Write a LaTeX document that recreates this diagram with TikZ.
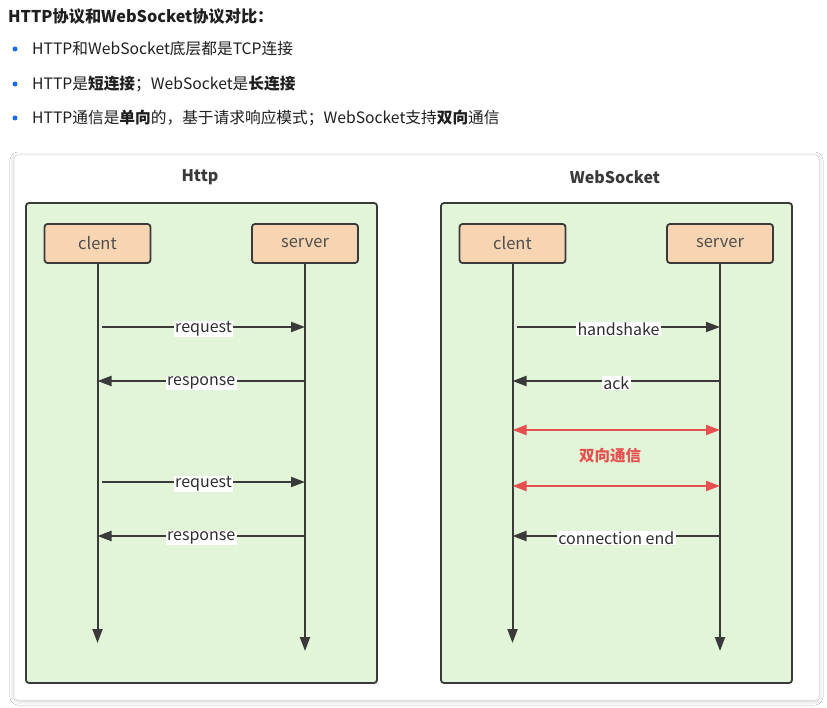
\documentclass[tikz,border=0pt]{standalone}
\usepackage{fontspec}
\setmainfont{Noto Sans CJK SC}
\usetikzlibrary{arrows.meta,shadows.blur}
\definecolor{txt}{HTML}{1F1F1F}
\definecolor{bulletblue}{HTML}{1A6BF0}
\definecolor{panelgreen}{HTML}{E3F5D8}
\definecolor{boxorange}{HTML}{F8D5B2}
\definecolor{edge}{HTML}{3A3A3A}
\definecolor{redline}{HTML}{E5504F}
\definecolor{cardline}{HTML}{E2E2E2}
\tikzset{
  bodytext/.style={anchor=west, text=txt, font=\fontsize{15.7}{18}\selectfont, inner sep=0pt},
  bulletdot/.style={circle, fill=bulletblue, inner sep=0pt, minimum size=5pt},
  card/.style={rectangle, rounded corners=4pt, fill=white, draw=cardline, line width=0.5pt,
    inner sep=0pt, outer sep=0pt, anchor=north west,
    blur shadow={shadow xshift=0pt, shadow yshift=-1pt, shadow blur radius=4pt, shadow opacity=22}},
  panel/.style={rectangle, rounded corners=3pt, fill=panelgreen, draw=edge, line width=1.8pt,
    inner sep=0pt, outer sep=0pt, anchor=north west},
  actor/.style={rectangle, rounded corners=3pt, fill=boxorange, draw=edge, line width=1.8pt,
    inner sep=0pt, outer sep=0pt, minimum width=106pt, minimum height=39pt,
    text=edge!90, font=\fontsize{16.5}{19}\selectfont},
  paneltitle/.style={text=edge, font=\fontsize{16}{19}\selectfont\bfseries},
  life/.style={draw=edge, line width=2pt, -{Triangle[length=14pt,width=10pt]}},
  msg/.style={draw=edge, line width=2pt, -{Triangle[length=14pt,width=10pt]}},
  lbl/.style={fill=white, inner xsep=1.5pt, inner ysep=1pt, text=edge!80!black,
    font=\fontsize{16}{18}\selectfont, yshift=-2pt},
  dual/.style={draw=redline, line width=2pt, {Triangle[length=14pt,width=10pt]}-{Triangle[length=14pt,width=10pt]}},
}
\begin{document}
\begin{tikzpicture}[x=1pt,y=-1pt]
\useasboundingbox (0,0) rectangle (827,708);
\fill[white] (0,0) rectangle (827,708);

% header text
\node[bodytext, font=\fontsize{16.2}{19}\selectfont\bfseries] (title) at (8,16) {HTTP协议和WebSocket协议对比：};
\node[bulletdot] (d1) at (15,49) {};
\node[bodytext] (t1) at (32,49) {HTTP和WebSocket底层都是TCP连接};
\node[bulletdot] (d2) at (15,84) {};
\node[bodytext] (t2) at (32,84) {HTTP是\textbf{短连接}；WebSocket是\textbf{长连接}};
\node[bulletdot] (d3) at (15,118) {};
\node[bodytext] (t3) at (32,118) {HTTP通信是\textbf{单向}的，基于请求响应模式；WebSocket支持\textbf{双向}通信};

% card
\node[card, minimum width=805pt, minimum height=545pt] (card) at (14,155) {};
\node[paneltitle] (httptitle) at (200,177) {Http};
\node[paneltitle] (wstitle) at (615,177) {WebSocket};

% panels
\node[panel, minimum width=351pt, minimum height=480pt] (hpanel) at (26,203) {};
\node[panel, minimum width=351pt, minimum height=480pt] (wpanel) at (441,203) {};

% actors
\node[actor] (hc) at (97.5,243.5) {clent};
\node[actor] (hs) at (305,243.5) {server};
\node[actor] (wc) at (512.5,243.5) {clent};
\node[actor] (ws) at (720,243.5) {server};

% lifeline ends
\coordinate (hcEnd) at (97.5,643);
\coordinate (hsEnd) at (305,651);
\coordinate (wcEnd) at (512.5,643);
\coordinate (wsEnd) at (720,651);
\draw[life] (hc.south) -- (hcEnd);
\draw[life] (hs.south) -- (hsEnd);
\draw[life] (wc.south) -- (wcEnd);
\draw[life] (ws.south) -- (wsEnd);

% http messages
\coordinate (hc1) at (102,327); \coordinate (hs1) at (305,327);
\coordinate (hc2) at (97.5,381); \coordinate (hs2) at (305,381);
\coordinate (hc3) at (102,482); \coordinate (hs3) at (305,482);
\coordinate (hc4) at (97.5,536); \coordinate (hs4) at (305,536);
\draw[msg] (hc1) -- node[lbl] (l1) {request} (hs1);
\draw[msg] (hs2) -- node[lbl] (l2) {response} (hc2);
\draw[msg] (hc3) -- node[lbl] (l3) {request} (hs3);
\draw[msg] (hs4) -- node[lbl] (l4) {response} (hc4);

% websocket messages
\coordinate (wc1) at (517,327); \coordinate (ws1) at (720,327);
\coordinate (wc2) at (512.5,381); \coordinate (ws2) at (720,381);
\coordinate (wc3) at (512.5,430); \coordinate (ws3) at (720,430);
\coordinate (wc4) at (512.5,486); \coordinate (ws4) at (720,486);
\coordinate (wc5) at (512.5,536); \coordinate (ws5) at (720,536);
\draw[msg] (wc1) -- node[lbl] (m1) {handshake} (ws1);
\draw[msg] (ws2) -- node[lbl] (m2) {ack} (wc2);
\draw[dual] (wc3) -- (ws3);
\draw[dual] (wc4) -- (ws4);
\node[text=redline, font=\fontsize{15.5}{18}\selectfont\bfseries] (dup) at (610,456) {双向通信};
\draw[msg] (ws5) -- node[lbl] (m5) {connection end} (wc5);
\end{tikzpicture}
\end{document}
